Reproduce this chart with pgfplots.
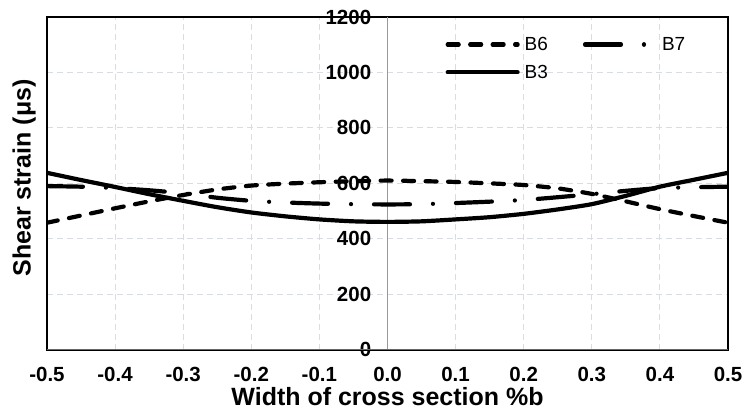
\documentclass[border=0pt]{standalone}
\usepackage{pgfplots}
\pgfplotsset{compat=1.18}
\usepackage{fontspec}
\setmainfont{Liberation Sans}
\definecolor{gridc}{HTML}{D9DCE3}
\begin{document}
\begin{tikzpicture}
\begin{axis}[
  name=ax,
  width=681.6pt, height=333pt, scale only axis,
  xmin=-0.5, xmax=0.5, ymin=0, ymax=1200,
  xtick={-0.5,-0.4,-0.3,-0.2,-0.1,0,0.1,0.2,0.3,0.4,0.5},
  xticklabels={-0.5,-0.4,-0.3,-0.2,-0.1,0.0,0.1,0.2,0.3,0.4,0.5},
  ytick={0,200,400,600,800,1000,1200},
  yticklabels={0,200,400,600,800,1000,1200},
  grid=major,
  major grid style={gridc, line width=1pt, dash pattern=on 6pt off 4pt},
  major tick length=0pt,
  axis line style={black, line width=1.8pt},
  ticklabel style={font=\fontsize{20.5}{24}\selectfont\bfseries},
  xticklabel style={anchor=base, yshift=-32pt, inner ysep=1pt},
  yticklabel style={xshift=328pt},
  xlabel={Width of cross section \%b},
  ylabel={Shear strain (μs)},
  label style={font=\fontsize{25}{29}\selectfont\bfseries},
  xlabel style={at={(axis description cs:0.5,-0.168)}, anchor=base, inner sep=0pt},
  ylabel style={at={(axis description cs:-0.016,0.516)}, anchor=south, inner sep=0pt},
  legend columns=2,
  legend style={at={(axis description cs:0.585,0.952)}, anchor=north west,
    draw=none, fill=none, inner sep=0pt, row sep=5pt,
    nodes={inner xsep=5pt, inner ysep=4pt},
    font=\fontsize{19}{23}\selectfont,
    /tikz/every even column/.append style={column sep=30pt}},
  legend image code/.code={\draw[#1] (0pt,0pt) -- (70pt,0pt);},
  every axis plot/.append style={black, line width=4.2pt, line cap=round, no markers, smooth, tension=0.4},
]
\draw[gray!80, line width=1.2pt] (axis cs:0,0) -- (axis cs:0,1200);
\addplot[dash pattern=on 11pt off 11.5pt] coordinates {
(-0.5,458) (-0.45,484) (-0.4,510) (-0.35,535) (-0.3,558) (-0.25,578) (-0.2,592) (-0.15,599) (-0.1,604) (-0.05,608) (0,610)
(0.05,608) (0.1,605) (0.15,600) (0.2,594) (0.25,582) (0.3,562) (0.35,535) (0.4,507) (0.45,482) (0.5,458)};
\addlegendentry{B6}
\addplot[dash pattern=on 36pt off 23pt on 0.01pt off 23pt] coordinates {
(-0.5,590) (-0.45,588) (-0.4,583) (-0.35,575) (-0.3,564) (-0.25,548) (-0.2,537) (-0.15,531) (-0.1,527) (-0.05,525) (0,524)
(0.05,525) (0.1,529) (0.15,534) (0.2,540) (0.25,550) (0.3,561) (0.35,573) (0.4,583) (0.45,586) (0.5,588)};
\addlegendentry{B7}
\addplot[solid] coordinates {
(-0.5,638) (-0.45,612) (-0.4,587) (-0.35,561) (-0.3,537) (-0.25,514) (-0.2,495) (-0.15,481) (-0.1,470) (-0.05,463) (0,461)
(0.05,463) (0.1,470) (0.15,478) (0.2,490) (0.25,506) (0.3,525) (0.35,555) (0.4,588) (0.45,613) (0.5,638)};
\addlegendentry{B3}
\draw[black!60, line width=1.8pt] (rel axis cs:0,0) -- (rel axis cs:1,0);
\end{axis}
\pgfresetboundingbox
\path ([xshift=-47pt,yshift=-60pt]ax.south west) rectangle ([xshift=17pt,yshift=17pt]ax.north east);
\end{tikzpicture}
\end{document}
